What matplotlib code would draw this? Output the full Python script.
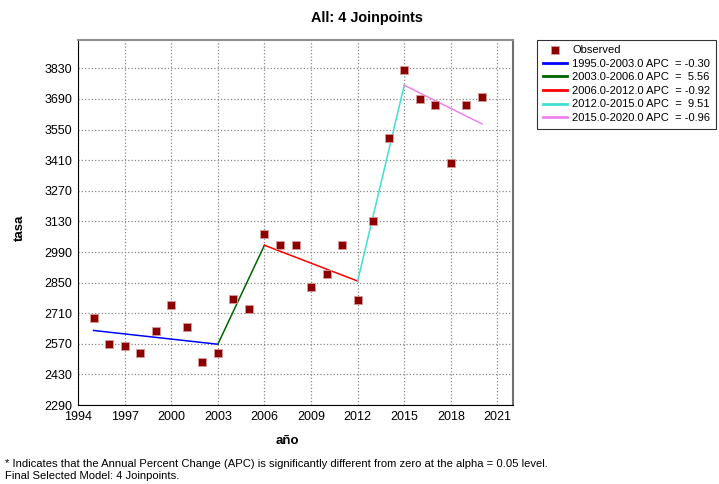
import matplotlib.pyplot as plt
import numpy as np

years = [1995, 1996, 1997, 1998, 1999, 2000, 2001, 2002, 2003, 2004, 2005, 2006, 2007,
         2008, 2009, 2010, 2011, 2012, 2013, 2014, 2015, 2016, 2017, 2018, 2019, 2020]
tasa = [2687, 2568, 2558, 2527, 2628, 2747, 2648, 2489, 2527, 2776, 2727, 3071, 3022,
        3022, 2829, 2891, 3022, 2771, 3130, 3510, 3821, 3690, 3663, 3398, 3663, 3701]

# joinpoint segments: (start, end) years and fitted values
seg_years = [(1995, 2003), (2003, 2006), (2006, 2012), (2012, 2015), (2015, 2020)]
seg_vals = [(2631, 2568), (2568, 3021), (3021, 2857), (2857, 3753), (3753, 3576)]
seg_apc = ['-0.30', ' 5.56', '-0.92', ' 9.51', '-0.96']
seg_colors = ['#0000ff', '#006400', '#ff0000', '#40e0d0', '#ee82ee']

xticks = np.arange(1994, 2022, 3)
yticks = np.arange(2290, 3831, 140)

plt.rcParams['font.family'] = ['Liberation Sans', 'DejaVu Sans']

fig = plt.figure(figsize=(7.19, 4.84), dpi=100)
ax = fig.add_axes([0.1085, 0.1632, 0.605, 0.7542])

for i in range(len(seg_years)):
    (y0, y1), (v0, v1) = seg_years[i], seg_vals[i]
    lab = '%.1f-%.1f APC  = %s' % (y0, y1, seg_apc[i])
    ax.plot([y0, y1], [v0, v1], color=seg_colors[i], lw=1.1, label=lab, zorder=3)

ax.scatter(years, tasa, marker='s', s=28, color='#8b0000', edgecolors='#d89a9a',
           linewidths=0.6, label='Observed', zorder=4)

ax.set_xlim(1994, 2022)
ax.set_ylim(2290, 3960)
ax.set_xticks(xticks)
ax.set_yticks(yticks)
ax.tick_params(length=0, labelsize=9, pad=4)
ax.grid(True, linestyle=':', color='#888888', lw=0.9)
ax.set_axisbelow(True)

ax.spines['left'].set_color('black')
ax.spines['bottom'].set_color('black')
ax.spines['top'].set_color('#909090')
ax.spines['right'].set_color('#707070')
ax.spines['top'].set_linewidth(1.5)
ax.spines['right'].set_linewidth(1.5)

fig.text(0.51, 0.963, 'All: 4 Joinpoints', ha='center', va='center',
         fontsize=10.4, fontweight='bold')
fig.text(0.028, 0.529, 'tasa', ha='center', va='center', rotation=90,
         fontsize=9.5, fontweight='bold')
fig.text(0.4, 0.088, 'año', ha='center', va='center',
         fontsize=9.5, fontweight='bold')
fig.text(0.007, 0.042, '* Indicates that the Annual Percent Change (APC) is significantly '
         'different from zero at the alpha = 0.05 level.', fontsize=8.1, va='center')
fig.text(0.007, 0.017, 'Final Selected Model: 4 Joinpoints.', fontsize=8.1, va='center')

handles, labels = ax.get_legend_handles_labels()
order = [len(handles) - 1] + list(range(len(handles) - 1))
leg = fig.legend([handles[i] for i in order], [labels[i] for i in order],
                 loc='upper left', bbox_to_anchor=(0.747, 0.918), fontsize=8,
                 frameon=True, fancybox=False, edgecolor='black', borderpad=0.5,
                 labelspacing=0.32, handlelength=2.2, handletextpad=0.45,
                 borderaxespad=0)
leg.get_frame().set_linewidth(0.8)
for ln in leg.get_lines():
    ln.set_linewidth(2)

fig.savefig('out.png', dpi=100)
